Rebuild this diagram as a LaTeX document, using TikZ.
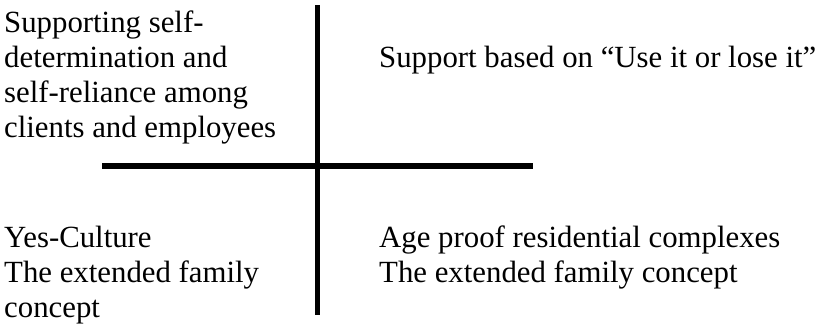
\documentclass[tikz,border=0pt]{standalone}
\usepackage{fontspec}
\setmainfont{Liberation Serif}
\usepackage{tikz}
\usetikzlibrary{positioning}
\tikzset{
  quadtext/.style={anchor=base west, inner sep=0pt, align=left, font=\fontsize{30.8}{35}\selectfont},
  axisline/.style={draw=black, line width=5.5pt}
}

\begin{document}
\begin{tikzpicture}[x=1pt, y=-1pt]
  \useasboundingbox (0,0) rectangle (824,324);

  % Axes
  \coordinate (vtop) at (317.5,5);
  \coordinate (vbot) at (317.5,315);
  \coordinate (hleft) at (102,166);
  \coordinate (hright) at (533,166);
  \draw[axisline] (vtop) -- (vbot);
  \draw[axisline] (hleft) -- (hright);

  % Quadrant texts (placed by the baseline of their last line)
  \node[quadtext] (tl) at (4,137) {Supporting self-\\determination and\\self-reliance among\\clients and employees};
  \node[quadtext] (tr) at (379,67) {Support based on “Use it or lose it”};
  \node[quadtext] (bl) at (4,317) {Yes-Culture\\The extended family\\concept};
  \node[quadtext] (br) at (379,282) {Age proof residential complexes\\The extended family concept};
\end{tikzpicture}
\end{document}
